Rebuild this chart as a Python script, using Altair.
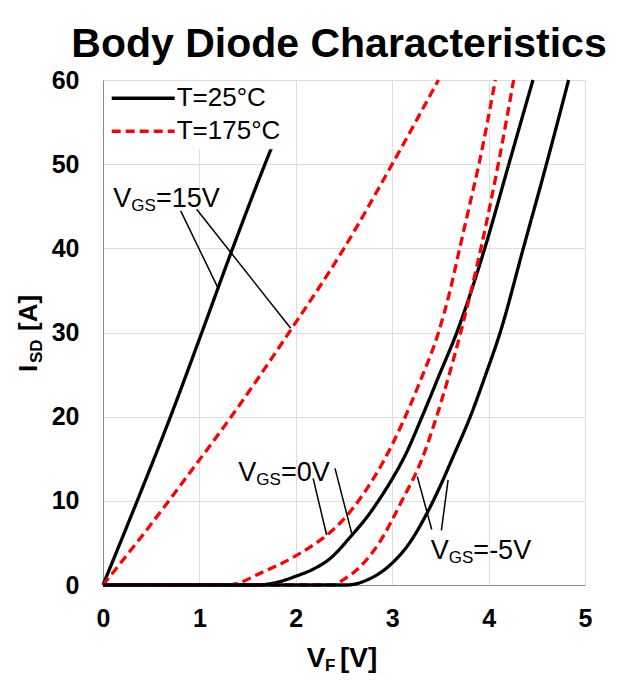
import altair as alt
import pandas as pd

# ---------------- data ----------------
TEMPS = ["T=25°C", "T=175°C"]

# T=25°C, VGS=15V
V_25_15 = [0, 0.355, 0.70, 1.025, 1.345, 1.68, 1.75]
I_25_15 = [0, 10, 20, 30, 40, 50, 52]
# T=175°C, VGS=15V
V_175_15 = [0, 0.45, 0.97, 1.33, 1.93, 2.50, 3.0, 3.48]
I_175_15 = [0, 6.5, 14.4, 20, 30, 40, 50, 60]
# T=25°C, VGS=0V
V_25_0 = [0, 1.58, 1.8, 1.99, 2.2, 2.34, 2.58, 2.74, 2.88, 3.01, 3.13, 3.31, 3.49, 3.67, 3.96, 4.21, 4.46]
I_25_0 = [0, 0, 0.3, 1.0, 2.0, 3.0, 5.9, 8.1, 10.4, 12.8, 15.3, 20, 25, 30, 40, 50, 60]
# T=175°C, VGS=0V
V_175_0 = [0, 1.3, 1.65, 1.99, 2.16, 2.32, 2.5, 2.7, 2.9, 3.1, 3.3, 3.48, 3.59, 3.70, 3.80, 3.90, 4.07]
I_175_0 = [0, 0, 1.5, 3.4, 4.6, 5.9, 7.85, 10.8, 14.5, 19.1, 24.5, 30, 34.5, 40, 45, 50, 60]
# T=175°C, VGS=-5V
V_175_m5 = [0, 2.39, 2.49, 2.67, 2.87, 3.10, 3.31, 3.46, 3.71, 3.92, 4.10, 4.26]
I_175_m5 = [0, 0, 0.6, 2.2, 5.1, 10, 15, 20, 30, 40, 50, 60]
# T=25°C, VGS=-5V
V_25_m5 = [0, 2.53, 2.74, 2.98, 3.18, 3.35, 3.50, 3.63, 3.81, 3.97, 4.12, 4.36, 4.60, 4.83]
I_25_m5 = [0, 0, 0.6, 2.4, 5.0, 8.3, 11.8, 15.2, 20, 25, 30, 40, 50, 60]

X_TICKS = [0, 1, 2, 3, 4, 5]
Y_TICKS = [0, 10, 20, 30, 40, 50, 60]

# annotation labels (data coordinates of the text start / baseline)
ANN_X = [0.107, 1.404, 3.40]
ANN_Y = [44.93, 12.39, 3.05]
ANN_REST = ["=15V", "=0V", "=-5V"]

# leader lines (data coordinates)
LEAD_X1 = [0.806, 0.971, 2.18, 2.407, 3.26, 3.58]
LEAD_Y1 = [44.45, 44.65, 12.67, 13.86, 12.9, 12.5]
LEAD_X2 = [1.195, 1.947, 2.32, 2.58, 3.41, 3.51]
LEAD_Y2 = [35.24, 30.5, 5.94, 6.14, 6.6, 6.5]

TITLE = "Body Diode Characteristics"

# ---------------- build tables ----------------
curves = [
    ("T=25°C", "15", V_25_15, I_25_15),
    ("T=175°C", "15", V_175_15, I_175_15),
    ("T=25°C", "0", V_25_0, I_25_0),
    ("T=175°C", "0", V_175_0, I_175_0),
    ("T=175°C", "-5", V_175_m5, I_175_m5),
    ("T=25°C", "-5", V_25_m5, I_25_m5),
]
rows = []
for temp, vgs, vs, cs in curves:
    for v, c in zip(vs, cs):
        rows.append({"temp": temp, "curve": temp + "_" + vgs, "V": v, "I": c})
df = pd.DataFrame(rows)

seg = pd.DataFrame({"x": LEAD_X1, "y": LEAD_Y1, "x2": LEAD_X2, "y2": LEAD_Y2})
ann = pd.DataFrame({"x": ANN_X, "y": ANN_Y, "rest": ANN_REST})
one = pd.DataFrame({"k": [0]})

FONT = "Liberation Sans"
GRID = "#a9a9a9"

x_scale = alt.Scale(domain=[0, 5], nice=False, zero=False)
y_scale = alt.Scale(domain=[0, 60], nice=False, zero=False)
x_axis = alt.Axis(values=X_TICKS, title=None, grid=True, ticks=False, labelPadding=21,
                  labelFont=FONT, labelFontSize=25, labelFontWeight="bold",
                  labelColor="black", format="d", labelFlush=False)
y_axis = alt.Axis(values=Y_TICKS, title=None, grid=True, ticks=False, labelPadding=24,
                  labelFont=FONT, labelFontSize=25, labelFontWeight="bold",
                  labelColor="black", format="d", labelFlush=False)

legend = alt.Legend(title=None, orient="none", legendX=6.2, legendY=1.3, padding=0.5,
                    clipHeight=33, symbolType="stroke", symbolSize=3969,
                    symbolStrokeWidth=3.4, labelFont=FONT, labelFontSize=26,
                    labelColor="black", labelOffset=0, rowPadding=0,
                    fillColor="white", strokeColor="white")

lines = alt.Chart(df).mark_line(strokeWidth=3.3, interpolate="monotone").encode(
    x=alt.X("V:Q", scale=x_scale, axis=x_axis),
    y=alt.Y("I:Q", scale=y_scale, axis=y_axis),
    color=alt.Color("temp:N", scale=alt.Scale(domain=TEMPS, range=["#000000", "#ff0000"]),
                    legend=legend),
    strokeDash=alt.StrokeDash("temp:N", scale=alt.Scale(domain=TEMPS, range=[[1, 0], [9, 5]]),
                              legend=legend),
    detail="curve:N",
)

rules = alt.Chart(seg).mark_rule(color="black", strokeWidth=1.5).encode(
    x=alt.X("x:Q", scale=x_scale, axis=x_axis),
    y=alt.Y("y:Q", scale=y_scale, axis=y_axis),
    x2="x2:Q",
    y2="y2:Q",
)

abase = alt.Chart(ann).encode(
    x=alt.X("x:Q", scale=x_scale, axis=x_axis),
    y=alt.Y("y:Q", scale=y_scale, axis=y_axis),
)
a1 = abase.mark_text(text="V", align="left", baseline="alphabetic", font=FONT,
                     fontSize=27, color="black")
a2 = abase.mark_text(text="GS", align="left", baseline="alphabetic", font=FONT,
                     fontSize=17, color="black", dx=18, dy=4)
a3 = abase.mark_text(align="left", baseline="alphabetic", font=FONT,
                     fontSize=27, color="black", dx=42.6).encode(text="rest:N")

def ptext(txt, px, py, size, angle=0, align="left"):
    kw = dict(text=txt, align=align, baseline="alphabetic", font=FONT, fontSize=size,
              fontWeight="bold", color="black")
    if angle:
        kw["angle"] = angle
    return alt.Chart(one).mark_text(**kw).encode(x=alt.value(px), y=alt.value(py))

title = ptext(TITLE, 236, -23, 41, align="center")
xt1 = ptext("V", 203.7, 587, 28)
xt2 = ptext("F", 222, 591, 17)
xt3 = ptext("[V]", 237, 587, 28)
yt1 = ptext("I", -65.7, 292, 26, 270)
yt2 = ptext("SD", -61, 283, 17, 270)
yt3 = ptext("[A]", -65.7, 251, 26, 270)

chart = alt.layer(lines, rules, a1, a2, a3, title, xt1, xt2, xt3, yt1, yt2, yt3).properties(
    width=482,
    height=505,
    autosize=alt.AutoSizeParams(type="none"),
    padding={"left": 95, "top": 72, "right": 39, "bottom": 89},
).configure_view(
    stroke=GRID, strokeWidth=1.3
).configure_axis(
    gridColor=GRID, gridWidth=1.3, domainColor=GRID, domainWidth=1.3
).configure(background="white")

chart.save("out.html", embed_options={"renderer": "svg", "actions": False})
